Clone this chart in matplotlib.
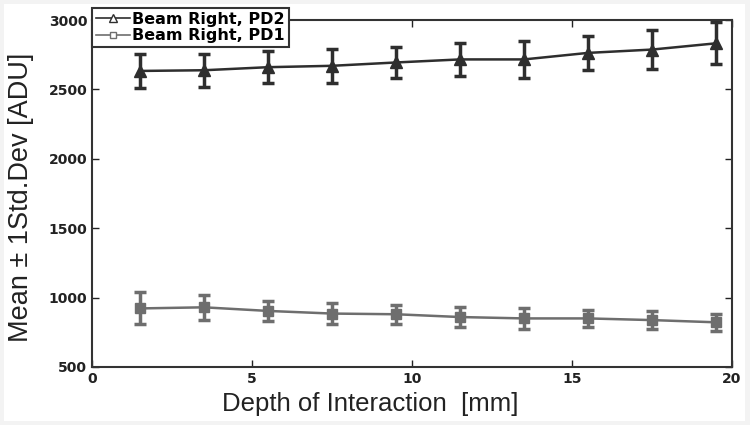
import matplotlib.pyplot as plt
from matplotlib.lines import Line2D
from matplotlib.patches import Rectangle

plt.rcParams["font.family"] = ["Liberation Sans", "DejaVu Sans"]

depth = [1.5, 3.5, 5.5, 7.5, 9.5, 11.5, 13.5, 15.5, 17.5, 19.5]
pd2_mean = [2633, 2638, 2660, 2670, 2694, 2716, 2716, 2763, 2787, 2832]
pd2_std = [125, 120, 117, 121, 110, 120, 135, 125, 140, 150]
pd1_mean = [922, 930, 904, 885, 880, 860, 850, 850, 838, 822]
pd1_std = [115, 92, 75, 77, 70, 70, 73, 62, 63, 62]
labels = ["Beam Right, PD2", "Beam Right, PD1"]

COLOR_PD2 = "#2e2e2e"
COLOR_PD1 = "#6e6e6e"
BOLD_FONT = "DejaVu Sans"

fig = plt.figure(figsize=(7.5, 4.25), dpi=100, facecolor="#f3f3f3")
# faint scanned-page margin around the white figure area
fig.patches.append(Rectangle((4 / 750, 4 / 425), 741 / 750, 417 / 425,
                             transform=fig.transFigure, facecolor="white",
                             edgecolor="none", zorder=-5))

ax = fig.add_axes([92 / 750, 1 - 367 / 425, (732 - 92) / 750, (367 - 20) / 425])

ax.errorbar(depth, pd2_mean, yerr=pd2_std, color=COLOR_PD2, marker="^",
            markersize=8.5, linewidth=1.8, elinewidth=2.5, capsize=4.5, capthick=2.5)
ax.errorbar(depth, pd1_mean, yerr=pd1_std, color=COLOR_PD1, marker="s",
            markersize=7, linewidth=1.8, elinewidth=2.5, capsize=4.5, capthick=2.5)

ax.set_xlim(0, 20)
ax.set_ylim(500, 3000)
ax.set_xticks([0, 5, 10, 15, 20])
ax.set_yticks([500, 1000, 1500, 2000, 2500, 3000])
ax.tick_params(direction="in", top=True, right=True, length=5, width=1,
               labelsize=10, colors="#222222")
for lbl in ax.get_xticklabels() + ax.get_yticklabels():
    lbl.set_fontweight("bold")
    lbl.set_family(BOLD_FONT)
for sp in ax.spines.values():
    sp.set_linewidth(1.5)
    sp.set_color("#333333")

ax.set_xlabel("Depth of Interaction  [mm]", fontsize=18.5, color="#222222")
ax.set_ylabel("Mean \u00b1 1Std.Dev [ADU]", fontsize=19.5, color="#222222")
# the original labels sit a little off-centre
ax.xaxis.set_label_coords(0.434, -0.072)
ax.yaxis.set_label_coords(-0.09, 0.49)

# legend uses small open markers like the original
handles = [
    Line2D([], [], color=COLOR_PD2, marker="^", markerfacecolor="white",
           markersize=6, linewidth=1.2),
    Line2D([], [], color=COLOR_PD1, marker="s", markerfacecolor="white",
           markersize=5, linewidth=1.2),
]
leg = ax.legend(handles, labels, loc="upper left", bbox_to_anchor=(0.0, 1.035),
                fancybox=False, framealpha=1, edgecolor="#333333", borderpad=0.25,
                labelspacing=0.1, handlelength=2.1, handletextpad=0.15,
                borderaxespad=0,
                prop={"weight": "bold", "size": 11.5, "family": BOLD_FONT})
leg.get_frame().set_linewidth(1.5)

fig.savefig("out.png", dpi=100, facecolor=fig.get_facecolor())
